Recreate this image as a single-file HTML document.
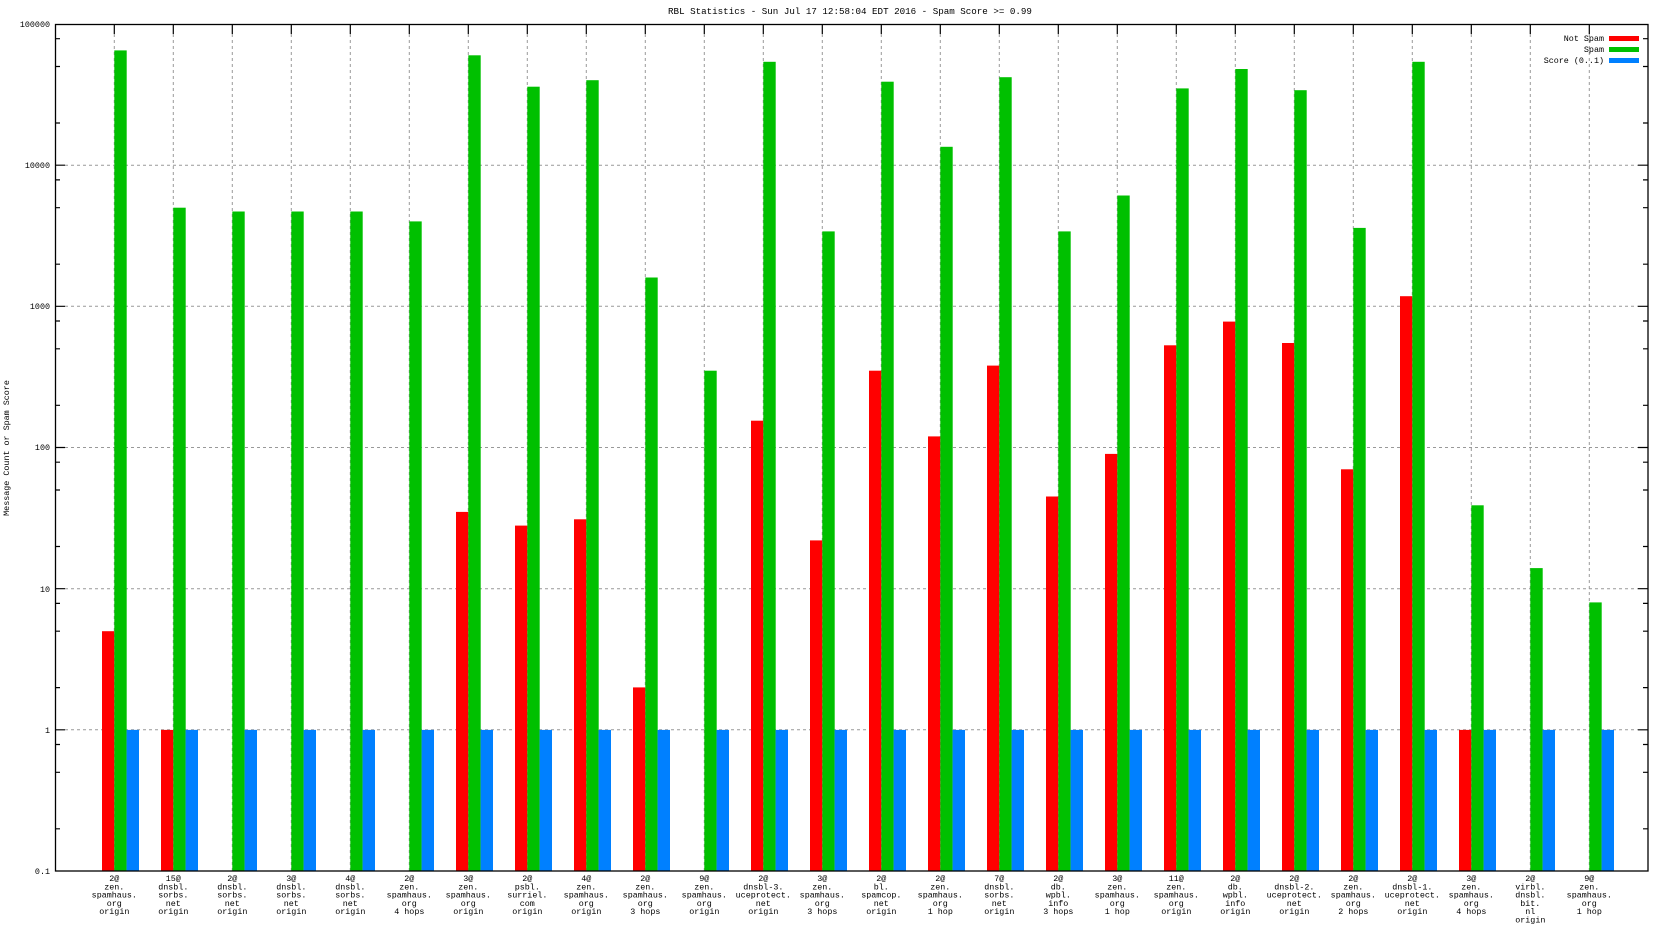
<!DOCTYPE html>
<html><head><meta charset="utf-8"><style>
html,body{margin:0;padding:0;background:#fff}
svg{display:block}
text{font-family:"Liberation Mono",monospace;fill:#000}
.l{font-size:8.4px;text-anchor:middle}
</style></head><body>
<svg width="1664" height="936" viewBox="0 0 1664 936" xmlns="http://www.w3.org/2000/svg">
<text x="850" y="14" font-size="9.2" text-anchor="middle">RBL Statistics - Sun Jul 17 12:58:04 EDT 2016 - Spam Score &gt;= 0.99</text>
<text transform="translate(9,448) rotate(-90)" font-size="8.4" text-anchor="middle">Message Count or Spam Score</text>
<g stroke="#999" stroke-dasharray="3,3" stroke-width="1">
<path d="M65 165.2H1638M65 306.3H1638M65 447.5H1638M65 588.7H1638M65 729.8H1638"/>
<path d="M114.3 34V871M173.3 34V871M232.3 34V871M291.3 34V871M350.3 34V871M409.3 34V871M468.3 34V871M527.3 34V871M586.3 34V871M645.3 34V871M704.3 34V871M763.3 34V871M822.3 34V871M881.3 34V871M940.3 34V871M999.3 34V871M1058.3 34V871M1117.3 34V871M1176.3 34V871M1235.3 34V871M1294.3 34V871M1353.3 34V871M1412.3 34V871M1471.3 34V871M1530.3 34V871M1589.3 34V871"/>
</g>
<g>
<g transform="translate(114.3,0)"><rect x="-12.3" y="631.2" width="12.3" height="239.8" fill="#f00"/><rect x="0" y="50.4" width="12.4" height="820.6" fill="#00c000"/><rect x="12.3" y="729.9" width="12.4" height="141.1" fill="#0080ff"/></g>
<g transform="translate(173.3,0)"><rect x="-12.3" y="729.9" width="12.3" height="141.1" fill="#f00"/><rect x="0" y="207.7" width="12.4" height="663.3" fill="#00c000"/><rect x="12.3" y="729.9" width="12.4" height="141.1" fill="#0080ff"/></g>
<g transform="translate(232.3,0)"><rect x="0" y="211.5" width="12.4" height="659.5" fill="#00c000"/><rect x="12.3" y="729.9" width="12.4" height="141.1" fill="#0080ff"/></g>
<g transform="translate(291.3,0)"><rect x="0" y="211.5" width="12.4" height="659.5" fill="#00c000"/><rect x="12.3" y="729.9" width="12.4" height="141.1" fill="#0080ff"/></g>
<g transform="translate(350.3,0)"><rect x="0" y="211.5" width="12.4" height="659.5" fill="#00c000"/><rect x="12.3" y="729.9" width="12.4" height="141.1" fill="#0080ff"/></g>
<g transform="translate(409.3,0)"><rect x="0" y="221.4" width="12.4" height="649.6" fill="#00c000"/><rect x="12.3" y="729.9" width="12.4" height="141.1" fill="#0080ff"/></g>
<g transform="translate(468.3,0)"><rect x="-12.3" y="511.9" width="12.3" height="359.1" fill="#f00"/><rect x="0" y="55.3" width="12.4" height="815.7" fill="#00c000"/><rect x="12.3" y="729.9" width="12.4" height="141.1" fill="#0080ff"/></g>
<g transform="translate(527.3,0)"><rect x="-12.3" y="525.6" width="12.3" height="345.4" fill="#f00"/><rect x="0" y="86.7" width="12.4" height="784.3" fill="#00c000"/><rect x="12.3" y="729.9" width="12.4" height="141.1" fill="#0080ff"/></g>
<g transform="translate(586.3,0)"><rect x="-12.3" y="519.3" width="12.3" height="351.7" fill="#f00"/><rect x="0" y="80.2" width="12.4" height="790.8" fill="#00c000"/><rect x="12.3" y="729.9" width="12.4" height="141.1" fill="#0080ff"/></g>
<g transform="translate(645.3,0)"><rect x="-12.3" y="687.4" width="12.3" height="183.6" fill="#f00"/><rect x="0" y="277.5" width="12.4" height="593.5" fill="#00c000"/><rect x="12.3" y="729.9" width="12.4" height="141.1" fill="#0080ff"/></g>
<g transform="translate(704.3,0)"><rect x="0" y="370.7" width="12.4" height="500.3" fill="#00c000"/><rect x="12.3" y="729.9" width="12.4" height="141.1" fill="#0080ff"/></g>
<g transform="translate(763.3,0)"><rect x="-12.3" y="420.7" width="12.3" height="450.3" fill="#f00"/><rect x="0" y="61.8" width="12.4" height="809.2" fill="#00c000"/><rect x="12.3" y="729.9" width="12.4" height="141.1" fill="#0080ff"/></g>
<g transform="translate(822.3,0)"><rect x="-12.3" y="540.4" width="12.3" height="330.6" fill="#f00"/><rect x="0" y="231.4" width="12.4" height="639.6" fill="#00c000"/><rect x="12.3" y="729.9" width="12.4" height="141.1" fill="#0080ff"/></g>
<g transform="translate(881.3,0)"><rect x="-12.3" y="370.7" width="12.3" height="500.3" fill="#f00"/><rect x="0" y="81.7" width="12.4" height="789.3" fill="#00c000"/><rect x="12.3" y="729.9" width="12.4" height="141.1" fill="#0080ff"/></g>
<g transform="translate(940.3,0)"><rect x="-12.3" y="436.4" width="12.3" height="434.6" fill="#f00"/><rect x="0" y="146.8" width="12.4" height="724.2" fill="#00c000"/><rect x="12.3" y="729.9" width="12.4" height="141.1" fill="#0080ff"/></g>
<g transform="translate(999.3,0)"><rect x="-12.3" y="365.6" width="12.3" height="505.4" fill="#f00"/><rect x="0" y="77.2" width="12.4" height="793.8" fill="#00c000"/><rect x="12.3" y="729.9" width="12.4" height="141.1" fill="#0080ff"/></g>
<g transform="translate(1058.3,0)"><rect x="-12.3" y="496.5" width="12.3" height="374.5" fill="#f00"/><rect x="0" y="231.4" width="12.4" height="639.6" fill="#00c000"/><rect x="12.3" y="729.9" width="12.4" height="141.1" fill="#0080ff"/></g>
<g transform="translate(1117.3,0)"><rect x="-12.3" y="453.9" width="12.3" height="417.1" fill="#f00"/><rect x="0" y="195.5" width="12.4" height="675.5" fill="#00c000"/><rect x="12.3" y="729.9" width="12.4" height="141.1" fill="#0080ff"/></g>
<g transform="translate(1176.3,0)"><rect x="-12.3" y="345.3" width="12.3" height="525.7" fill="#f00"/><rect x="0" y="88.4" width="12.4" height="782.6" fill="#00c000"/><rect x="12.3" y="729.9" width="12.4" height="141.1" fill="#0080ff"/></g>
<g transform="translate(1235.3,0)"><rect x="-12.3" y="321.6" width="12.3" height="549.4" fill="#f00"/><rect x="0" y="69" width="12.4" height="802" fill="#00c000"/><rect x="12.3" y="729.9" width="12.4" height="141.1" fill="#0080ff"/></g>
<g transform="translate(1294.3,0)"><rect x="-12.3" y="343" width="12.3" height="528" fill="#f00"/><rect x="0" y="90.2" width="12.4" height="780.8" fill="#00c000"/><rect x="12.3" y="729.9" width="12.4" height="141.1" fill="#0080ff"/></g>
<g transform="translate(1353.3,0)"><rect x="-12.3" y="469.3" width="12.3" height="401.7" fill="#f00"/><rect x="0" y="227.9" width="12.4" height="643.1" fill="#00c000"/><rect x="12.3" y="729.9" width="12.4" height="141.1" fill="#0080ff"/></g>
<g transform="translate(1412.3,0)"><rect x="-12.3" y="296.2" width="12.3" height="574.8" fill="#f00"/><rect x="0" y="61.8" width="12.4" height="809.2" fill="#00c000"/><rect x="12.3" y="729.9" width="12.4" height="141.1" fill="#0080ff"/></g>
<g transform="translate(1471.3,0)"><rect x="-12.3" y="729.9" width="12.3" height="141.1" fill="#f00"/><rect x="0" y="505.3" width="12.4" height="365.7" fill="#00c000"/><rect x="12.3" y="729.9" width="12.4" height="141.1" fill="#0080ff"/></g>
<g transform="translate(1530.3,0)"><rect x="0" y="568.1" width="12.4" height="302.9" fill="#00c000"/><rect x="12.3" y="729.9" width="12.4" height="141.1" fill="#0080ff"/></g>
<g transform="translate(1589.3,0)"><rect x="0" y="602.4" width="12.4" height="268.6" fill="#00c000"/><rect x="12.3" y="729.9" width="12.4" height="141.1" fill="#0080ff"/></g>
</g>
<rect x="55.5" y="24.5" width="1592.5" height="846.5" fill="none" stroke="#000" stroke-width="1.3"/>
<g stroke="#000" stroke-width="1.2">
<path d="M55 165.2h10M55 306.3h10M55 447.5h10M55 588.7h10M55 729.8h10M1648 165.2h-10M1648 306.3h-10M1648 447.5h-10M1648 588.7h-10M1648 729.8h-10"/>
<path d="M55 38.7h5M55 66.5h5M55 123h5M55 179.9h5M55 207.7h5M55 264.2h5M55 321h5M55 348.8h5M55 405.3h5M55 462.2h5M55 490h5M55 546.5h5M55 603.4h5M55 631.2h5M55 687.6h5M55 744.5h5M55 772.3h5M55 828.8h5"/>
<path d="M1648 38.7h-5M1648 66.5h-5M1648 123h-5M1648 179.9h-5M1648 207.7h-5M1648 264.2h-5M1648 321h-5M1648 348.8h-5M1648 405.3h-5M1648 462.2h-5M1648 490h-5M1648 546.5h-5M1648 603.4h-5M1648 631.2h-5M1648 687.6h-5M1648 744.5h-5M1648 772.3h-5M1648 828.8h-5"/>
<path d="M114.3 24v10M173.3 24v10M232.3 24v10M291.3 24v10M350.3 24v10M409.3 24v10M468.3 24v10M527.3 24v10M586.3 24v10M645.3 24v10M704.3 24v10M763.3 24v10M822.3 24v10M881.3 24v10M940.3 24v10M999.3 24v10M1058.3 24v10M1117.3 24v10M1176.3 24v10M1235.3 24v10M1294.3 24v10M1353.3 24v10M1412.3 24v10M1471.3 24v10M1530.3 24v10M1589.3 24v10"/>
</g>
<g font-size="8.4" text-anchor="end">
<text x="50" y="27">100000</text><text x="50" y="168">10000</text><text x="50" y="309">1000</text><text x="50" y="450">100</text><text x="50" y="592">10</text><text x="50" y="733">1</text><text x="50" y="874">0.1</text>
</g>
<g font-size="8.4" text-anchor="end">
<text x="1604" y="41">Not Spam</text><text x="1604" y="52">Spam</text><text x="1604" y="63">Score (0..1)</text>
</g>
<rect x="1609" y="36" width="30" height="5" fill="#f00"/>
<rect x="1609" y="47" width="30" height="5" fill="#00c000"/>
<rect x="1609" y="58" width="30" height="5" fill="#0080ff"/>
<g class="l">
<text x="114.3" y="881">2@<tspan x="114.3" dy="8.3">zen.</tspan><tspan x="114.3" dy="8.3">spamhaus.</tspan><tspan x="114.3" dy="8.3">org</tspan><tspan x="114.3" dy="8.3">origin</tspan></text>
<text x="173.3" y="881">15@<tspan x="173.3" dy="8.3">dnsbl.</tspan><tspan x="173.3" dy="8.3">sorbs.</tspan><tspan x="173.3" dy="8.3">net</tspan><tspan x="173.3" dy="8.3">origin</tspan></text>
<text x="232.3" y="881">2@<tspan x="232.3" dy="8.3">dnsbl.</tspan><tspan x="232.3" dy="8.3">sorbs.</tspan><tspan x="232.3" dy="8.3">net</tspan><tspan x="232.3" dy="8.3">origin</tspan></text>
<text x="291.3" y="881">3@<tspan x="291.3" dy="8.3">dnsbl.</tspan><tspan x="291.3" dy="8.3">sorbs.</tspan><tspan x="291.3" dy="8.3">net</tspan><tspan x="291.3" dy="8.3">origin</tspan></text>
<text x="350.3" y="881">4@<tspan x="350.3" dy="8.3">dnsbl.</tspan><tspan x="350.3" dy="8.3">sorbs.</tspan><tspan x="350.3" dy="8.3">net</tspan><tspan x="350.3" dy="8.3">origin</tspan></text>
<text x="409.3" y="881">2@<tspan x="409.3" dy="8.3">zen.</tspan><tspan x="409.3" dy="8.3">spamhaus.</tspan><tspan x="409.3" dy="8.3">org</tspan><tspan x="409.3" dy="8.3">4 hops</tspan></text>
<text x="468.3" y="881">3@<tspan x="468.3" dy="8.3">zen.</tspan><tspan x="468.3" dy="8.3">spamhaus.</tspan><tspan x="468.3" dy="8.3">org</tspan><tspan x="468.3" dy="8.3">origin</tspan></text>
<text x="527.3" y="881">2@<tspan x="527.3" dy="8.3">psbl.</tspan><tspan x="527.3" dy="8.3">surriel.</tspan><tspan x="527.3" dy="8.3">com</tspan><tspan x="527.3" dy="8.3">origin</tspan></text>
<text x="586.3" y="881">4@<tspan x="586.3" dy="8.3">zen.</tspan><tspan x="586.3" dy="8.3">spamhaus.</tspan><tspan x="586.3" dy="8.3">org</tspan><tspan x="586.3" dy="8.3">origin</tspan></text>
<text x="645.3" y="881">2@<tspan x="645.3" dy="8.3">zen.</tspan><tspan x="645.3" dy="8.3">spamhaus.</tspan><tspan x="645.3" dy="8.3">org</tspan><tspan x="645.3" dy="8.3">3 hops</tspan></text>
<text x="704.3" y="881">9@<tspan x="704.3" dy="8.3">zen.</tspan><tspan x="704.3" dy="8.3">spamhaus.</tspan><tspan x="704.3" dy="8.3">org</tspan><tspan x="704.3" dy="8.3">origin</tspan></text>
<text x="763.3" y="881">2@<tspan x="763.3" dy="8.3">dnsbl-3.</tspan><tspan x="763.3" dy="8.3">uceprotect.</tspan><tspan x="763.3" dy="8.3">net</tspan><tspan x="763.3" dy="8.3">origin</tspan></text>
<text x="822.3" y="881">3@<tspan x="822.3" dy="8.3">zen.</tspan><tspan x="822.3" dy="8.3">spamhaus.</tspan><tspan x="822.3" dy="8.3">org</tspan><tspan x="822.3" dy="8.3">3 hops</tspan></text>
<text x="881.3" y="881">2@<tspan x="881.3" dy="8.3">bl.</tspan><tspan x="881.3" dy="8.3">spamcop.</tspan><tspan x="881.3" dy="8.3">net</tspan><tspan x="881.3" dy="8.3">origin</tspan></text>
<text x="940.3" y="881">2@<tspan x="940.3" dy="8.3">zen.</tspan><tspan x="940.3" dy="8.3">spamhaus.</tspan><tspan x="940.3" dy="8.3">org</tspan><tspan x="940.3" dy="8.3">1 hop</tspan></text>
<text x="999.3" y="881">7@<tspan x="999.3" dy="8.3">dnsbl.</tspan><tspan x="999.3" dy="8.3">sorbs.</tspan><tspan x="999.3" dy="8.3">net</tspan><tspan x="999.3" dy="8.3">origin</tspan></text>
<text x="1058.3" y="881">2@<tspan x="1058.3" dy="8.3">db.</tspan><tspan x="1058.3" dy="8.3">wpbl.</tspan><tspan x="1058.3" dy="8.3">info</tspan><tspan x="1058.3" dy="8.3">3 hops</tspan></text>
<text x="1117.3" y="881">3@<tspan x="1117.3" dy="8.3">zen.</tspan><tspan x="1117.3" dy="8.3">spamhaus.</tspan><tspan x="1117.3" dy="8.3">org</tspan><tspan x="1117.3" dy="8.3">1 hop</tspan></text>
<text x="1176.3" y="881">11@<tspan x="1176.3" dy="8.3">zen.</tspan><tspan x="1176.3" dy="8.3">spamhaus.</tspan><tspan x="1176.3" dy="8.3">org</tspan><tspan x="1176.3" dy="8.3">origin</tspan></text>
<text x="1235.3" y="881">2@<tspan x="1235.3" dy="8.3">db.</tspan><tspan x="1235.3" dy="8.3">wpbl.</tspan><tspan x="1235.3" dy="8.3">info</tspan><tspan x="1235.3" dy="8.3">origin</tspan></text>
<text x="1294.3" y="881">2@<tspan x="1294.3" dy="8.3">dnsbl-2.</tspan><tspan x="1294.3" dy="8.3">uceprotect.</tspan><tspan x="1294.3" dy="8.3">net</tspan><tspan x="1294.3" dy="8.3">origin</tspan></text>
<text x="1353.3" y="881">2@<tspan x="1353.3" dy="8.3">zen.</tspan><tspan x="1353.3" dy="8.3">spamhaus.</tspan><tspan x="1353.3" dy="8.3">org</tspan><tspan x="1353.3" dy="8.3">2 hops</tspan></text>
<text x="1412.3" y="881">2@<tspan x="1412.3" dy="8.3">dnsbl-1.</tspan><tspan x="1412.3" dy="8.3">uceprotect.</tspan><tspan x="1412.3" dy="8.3">net</tspan><tspan x="1412.3" dy="8.3">origin</tspan></text>
<text x="1471.3" y="881">3@<tspan x="1471.3" dy="8.3">zen.</tspan><tspan x="1471.3" dy="8.3">spamhaus.</tspan><tspan x="1471.3" dy="8.3">org</tspan><tspan x="1471.3" dy="8.3">4 hops</tspan></text>
<text x="1530.3" y="881">2@<tspan x="1530.3" dy="8.3">virbl.</tspan><tspan x="1530.3" dy="8.3">dnsbl.</tspan><tspan x="1530.3" dy="8.3">bit.</tspan><tspan x="1530.3" dy="8.3">nl</tspan><tspan x="1530.3" dy="8.3">origin</tspan></text>
<text x="1589.3" y="881">9@<tspan x="1589.3" dy="8.3">zen.</tspan><tspan x="1589.3" dy="8.3">spamhaus.</tspan><tspan x="1589.3" dy="8.3">org</tspan><tspan x="1589.3" dy="8.3">1 hop</tspan></text>
</g>
</svg>
</body></html>
